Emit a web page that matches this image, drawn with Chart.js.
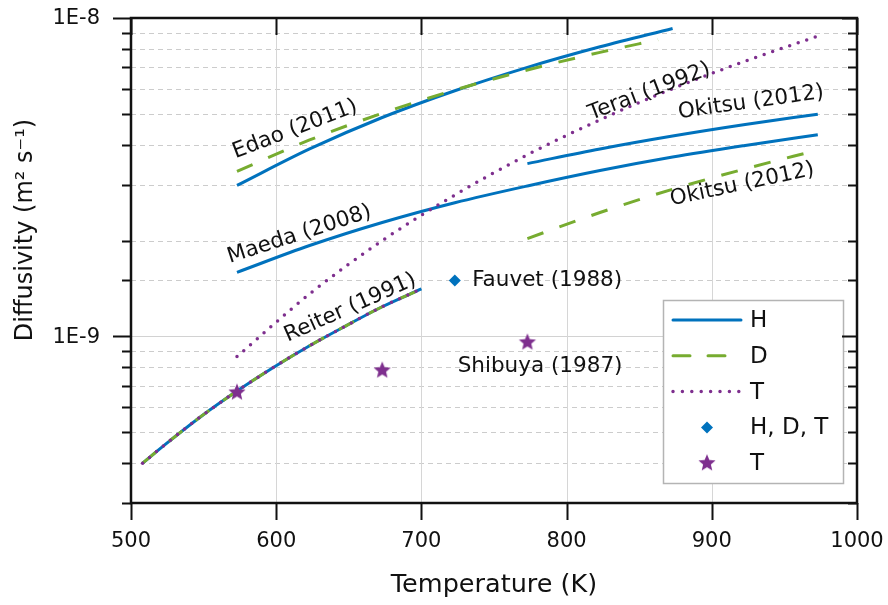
<!DOCTYPE html>
<html>
<head>
<meta charset="utf-8">
<script src="https://cdn.jsdelivr.net/npm/chart.js@4/dist/chart.umd.min.js"></script>
<style>
  html, body { margin: 0; background: #fff; }
  #wrap { width: 888px; height: 605px; }
</style>
</head>
<body>
<div id="wrap"><canvas id="chart"></canvas></div>
<script>
// values: temperature in K, diffusivity in m^2/s
const edaoT   = [573, 623, 673, 723, 773, 823, 873];
const edaoH   = [2.98e-9, 3.88e-9, 4.87e-9, 5.91e-9, 7.00e-9, 8.12e-9, 9.27e-9];
const edaoDT  = [573, 623, 673, 723, 773, 823, 863];
const edaoD   = [3.30e-9, 4.14e-9, 5.02e-9, 5.94e-9, 6.87e-9, 7.80e-9, 8.55e-9];
const maedaT  = [573, 623, 673, 723, 773, 823, 873, 923, 973];
const maedaH  = [1.59e-9, 1.93e-9, 2.28e-9, 2.63e-9, 2.97e-9, 3.32e-9, 3.66e-9, 3.98e-9, 4.30e-9];
const okitsuT = [773, 823, 873, 923, 973];
const okitsuH = [3.49e-9, 3.88e-9, 4.26e-9, 4.63e-9, 4.99e-9];
const okitsuD = [2.03e-9, 2.45e-9, 2.90e-9, 3.36e-9, 3.85e-9];
const teraiT  = [573, 623, 673, 723, 773, 823, 873, 923, 973];
const teraiTr = [8.65e-10, 1.36e-9, 2.00e-9, 2.78e-9, 3.72e-9, 4.79e-9, 6.00e-9, 7.32e-9, 8.77e-9];
const reiterT = [508, 523, 548, 573, 598, 623, 648, 673, 700];
const reiterD = [4.0e-10, 4.56e-10, 5.60e-10, 6.74e-10, 7.99e-10, 9.35e-10, 1.08e-9, 1.24e-9, 1.41e-9];
const fauvetT = [723];
const fauvetD = [1.50e-9];
const shibuyaT = [573, 673, 773];
const shibuyaD = [6.67e-10, 7.82e-10, 9.58e-10];

const xTicks = [500, 600, 700, 800, 900, 1000];
const yLabels = { '-9': '1E-9', '-8': '1E-8' };

const blue = '#0072BD', green = '#77AC30', purple = '#7E2F8E';
const FONT = '"DejaVu Sans", sans-serif';

// text labels placed next to the curves (data coords, rotation in degrees)
const notes = [
  { text: 'Edao (2011)',   x: 613, y: 4.47e-9, angle: -21 },
  { text: 'Maeda (2008)',  x: 616, y: 2.09e-9, angle: -18 },
  { text: 'Reiter (1991)', x: 651, y: 1.23e-9, angle: -24 },
  { text: 'Terai (1992)',  x: 857, y: 5.87e-9, angle: -21 },
  { text: 'Okitsu (2012)', x: 927, y: 5.43e-9, angle: -8 },
  { text: 'Okitsu (2012)', x: 921, y: 3.00e-9, angle: -12 },
  { text: 'Fauvet (1988)', x: 735, y: 1.50e-9, angle: 0, left: true },
  { text: 'Shibuya (1987)', x: 725, y: 8.05e-10, angle: 0, left: true }
];

const legendItems = [
  { label: 'H', kind: 'line', color: blue, dash: [] },
  { label: 'D', kind: 'line', color: green, dash: [17, 18] },
  { label: 'T', kind: 'line', color: purple, dash: [0, 9.4] },
  { label: 'H, D, T', kind: 'diamond', color: blue },
  { label: 'T', kind: 'star', color: purple }
];

function makeStar(r, color) {
  const c = document.createElement('canvas');
  c.width = c.height = 2 * r + 2;
  const g = c.getContext('2d');
  g.fillStyle = color;
  g.beginPath();
  for (let i = 0; i < 10; i++) {
    const rad = i % 2 ? r * 0.45 : r;
    const a = -Math.PI / 2 + i * Math.PI / 5;
    const px = r + 1 + rad * Math.cos(a), py = r + 1 + rad * Math.sin(a);
    i ? g.lineTo(px, py) : g.moveTo(px, py);
  }
  g.closePath();
  g.fill();
  return c;
}
const star = makeStar(9, purple);

const pts = (xs, ys) => xs.map((x, i) => ({ x, y: ys[i] }));
const isDecade = v => Math.abs(Math.log10(v) - Math.round(Math.log10(v))) < 1e-6;

const solid  = (xs, ys) => ({ data: pts(xs, ys), borderColor: blue, borderWidth: 3, order: 3 });
const dashed = (xs, ys) => ({ data: pts(xs, ys), borderColor: green, borderWidth: 3, borderDash: [17, 17], order: 2 });
const dotted = (xs, ys) => ({ data: pts(xs, ys), borderColor: purple, borderWidth: 3.5, borderDash: [0, 9], borderCapStyle: 'round', order: 1 });

const datasets = [
  solid(edaoT, edaoH), dashed(edaoDT, edaoD),
  solid(maedaT, maedaH),
  solid(okitsuT, okitsuH), dashed(okitsuT, okitsuD),
  dotted(teraiT, teraiTr),
  solid(reiterT, reiterD), dashed(reiterT, reiterD), dotted(reiterT, reiterD),
  { data: pts(fauvetT, fauvetD), showLine: false, pointStyle: 'rectRot', pointRadius: 6,
    backgroundColor: blue, borderColor: blue, borderWidth: 0, order: 0 },
  { data: pts(shibuyaT, shibuyaD), showLine: false, pointStyle: star, pointRadius: 9, order: 0 }
];
datasets.forEach(d => { if (d.showLine !== false) { d.pointRadius = 0; d.fill = false; d.cubicInterpolationMode = 'monotone'; } });

const decor = {
  id: 'decor',
  beforeDatasetsDraw(chart) {
    const { ctx, chartArea: a, scales: { x, y } } = chart;
    ctx.save();
    ctx.lineWidth = 1;
    y.ticks.forEach(t => {
      const py = Math.round(y.getPixelForValue(t.value)) + 0.5;
      if (isDecade(t.value)) { ctx.setLineDash([]); ctx.strokeStyle = '#d2d2d2'; }
      else { ctx.setLineDash([5, 4]); ctx.strokeStyle = '#cccccc'; }
      ctx.beginPath(); ctx.moveTo(a.left, py); ctx.lineTo(a.right, py); ctx.stroke();
    });
    ctx.setLineDash([]);
    ctx.strokeStyle = '#d6d6d6';
    x.ticks.forEach(t => {
      const px = Math.round(x.getPixelForValue(t.value)) + 0.5;
      ctx.beginPath(); ctx.moveTo(px, a.top); ctx.lineTo(px, a.bottom); ctx.stroke();
    });
    ctx.restore();
  },
  afterDatasetsDraw(chart) {
    const { ctx, chartArea: a, scales: { x, y } } = chart;
    ctx.save();
    // notes
    ctx.fillStyle = '#111';
    ctx.font = '21.5px ' + FONT;
    ctx.textBaseline = 'middle';
    notes.forEach(n => {
      ctx.save();
      ctx.translate(x.getPixelForValue(n.x), y.getPixelForValue(n.y));
      ctx.rotate(n.angle * Math.PI / 180);
      ctx.textAlign = n.left ? 'left' : 'center';
      ctx.fillText(n.text, 0, 0);
      ctx.restore();
    });

    // legend
    const x0 = a.right - 194, y0 = a.bottom - 203, w = 180, h = 183;
    ctx.fillStyle = '#fff';
    ctx.fillRect(x0, y0, w, h);
    ctx.strokeStyle = '#b4b4b4';
    ctx.lineWidth = 1.5;
    ctx.strokeRect(x0 + 0.5, y0 + 0.5, w, h);
    ctx.font = '23px ' + FONT;
    ctx.textAlign = 'left';
    legendItems.forEach((it, i) => {
      const ly = y0 + 20 + i * 35.8;
      if (it.kind === 'line') {
        ctx.strokeStyle = it.color;
        ctx.lineWidth = it.dash.length && it.dash[0] === 0 ? 3.5 : 3;
        ctx.lineCap = 'round';
        ctx.setLineDash(it.dash);
        ctx.beginPath(); ctx.moveTo(x0 + 10, ly); ctx.lineTo(x0 + 78, ly); ctx.stroke();
        ctx.setLineDash([]);
        ctx.lineCap = 'butt';
      } else if (it.kind === 'diamond') {
        const cx = x0 + 44, r = 6;
        ctx.fillStyle = it.color;
        ctx.beginPath();
        ctx.moveTo(cx, ly - r); ctx.lineTo(cx + r, ly); ctx.lineTo(cx, ly + r); ctx.lineTo(cx - r, ly);
        ctx.closePath(); ctx.fill();
      } else {
        ctx.drawImage(star, x0 + 44 - star.width / 2, ly - star.height / 2);
      }
      ctx.fillStyle = '#111';
      ctx.fillText(it.label, x0 + 87, ly + 1);
    });

    // frame and ticks
    ctx.strokeStyle = '#111';
    ctx.lineWidth = 2;
    y.ticks.forEach(t => {
      const py = Math.round(y.getPixelForValue(t.value)) + 0.5;
      const major = isDecade(t.value);
      ctx.beginPath();
      ctx.moveTo(a.left - (major ? 18 : 9), py); ctx.lineTo(a.left, py);
      ctx.moveTo(a.right, py); ctx.lineTo(a.right - (major ? 15 : 9), py);
      ctx.stroke();
    });
    x.ticks.forEach(t => {
      const px = Math.round(x.getPixelForValue(t.value)) + 0.5;
      ctx.beginPath();
      ctx.moveTo(px, a.bottom); ctx.lineTo(px, a.bottom + 17);
      ctx.moveTo(px, a.top); ctx.lineTo(px, a.top + 17);
      ctx.stroke();
    });
    ctx.lineWidth = 2.5;
    ctx.strokeRect(a.left, a.top, a.right - a.left, a.bottom - a.top);

    // tick labels
    ctx.fillStyle = '#111';
    ctx.font = '21px ' + FONT;
    ctx.textBaseline = 'middle';
    ctx.textAlign = 'center';
    x.ticks.forEach(t => ctx.fillText(String(t.value), x.getPixelForValue(t.value), a.bottom + 39));
    ctx.textAlign = 'right';
    y.ticks.forEach(t => {
      if (!isDecade(t.value)) return;
      const lab = yLabels[String(Math.round(Math.log10(t.value)))];
      if (lab) ctx.fillText(lab, a.left - 31, y.getPixelForValue(t.value) + 1);
    });

    // axis titles
    ctx.font = '25.5px ' + FONT;
    ctx.textAlign = 'center';
    ctx.fillText('Temperature (K)', (a.left + a.right) / 2, 585);
    ctx.save();
    ctx.translate(26, 230);
    ctx.rotate(-Math.PI / 2);
    ctx.font = '24px ' + FONT;
    ctx.fillText('Diffusivity (m² s⁻¹)', 0, 0);
    ctx.restore();
    ctx.restore();
  }
};

new Chart(document.getElementById('chart'), {
  type: 'line',
  data: { datasets },
  plugins: [decor],
  options: {
    responsive: true,
    maintainAspectRatio: false,
    animation: false,
    layout: { padding: { top: 18, right: 31, left: 0, bottom: 0 } },
    plugins: { legend: { display: false }, tooltip: { enabled: false } },
    scales: {
      x: {
        type: 'linear', min: 500, max: 1000,
        afterBuildTicks: s => { s.ticks = xTicks.map(v => ({ value: v })); },
        afterFit: s => { s.height = 102; s.paddingLeft = 0; s.paddingRight = 0; },
        grid: { drawOnChartArea: false, drawTicks: false },
        border: { display: false },
        ticks: { display: false }
      },
      y: {
        type: 'logarithmic', min: 3e-10, max: 1e-8,
        afterFit: s => { s.width = 131; s.paddingTop = 0; s.paddingBottom = 0; },
        grid: { drawOnChartArea: false, drawTicks: false },
        border: { display: false },
        ticks: { display: false, autoSkip: false }
      }
    }
  }
});
</script>
</body>
</html>
